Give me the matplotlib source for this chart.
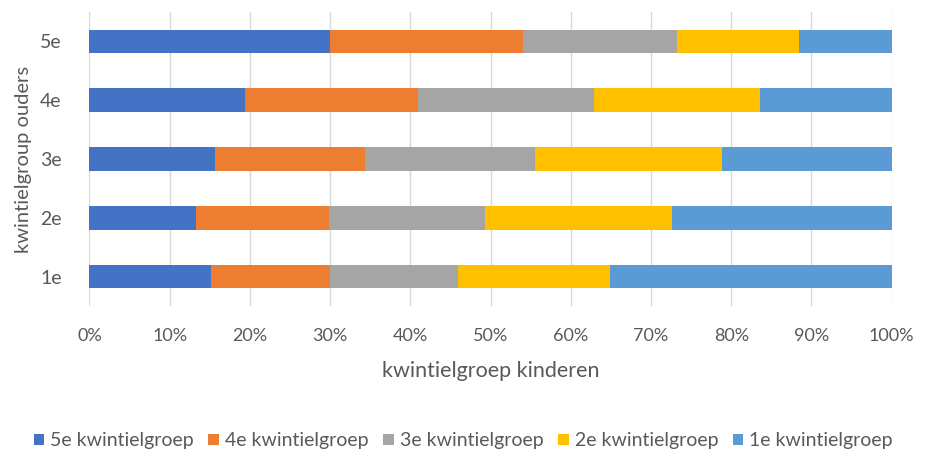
import matplotlib
matplotlib.use("Agg")
import matplotlib.pyplot as plt
from matplotlib.ticker import PercentFormatter
import numpy as np

plt.rcParams["font.family"] = ["Lato", "DejaVu Sans"]

# parent quintile groups (bottom to top)
ouders = ["1e", "2e", "3e", "4e", "5e"]

# share of children in each quintile group (%), per parent group
kind_5e = [15.1, 13.3, 15.6, 19.4, 30.0]
kind_4e = [14.9, 16.5, 18.8, 21.6, 24.0]
kind_3e = [15.9, 19.5, 21.1, 21.9, 19.3]
kind_2e = [19.0, 23.3, 23.4, 20.7, 15.1]
kind_1e = [35.1, 27.4, 21.1, 16.4, 11.6]

series = [
    ("5e kwintielgroep", kind_5e, "#4472C4"),
    ("4e kwintielgroep", kind_4e, "#ED7D31"),
    ("3e kwintielgroep", kind_3e, "#A5A5A5"),
    ("2e kwintielgroep", kind_2e, "#FFC000"),
    ("1e kwintielgroep", kind_1e, "#5B9BD5"),
]

fig = plt.figure(figsize=(9.32, 4.54), dpi=100)
ax = fig.add_axes([0.096, 0.326, 0.8607, 0.6476])

y = np.arange(len(ouders))
left = np.zeros(len(ouders))
for name, vals, col in series:
    vals = np.array(vals)
    ax.barh(y, vals, left=left, height=0.4, color=col, label=name, zorder=3)
    left += vals

ax.set_xlim(0, 100)
ax.set_ylim(-0.5, 4.5)
ax.set_xticks(np.arange(0, 101, 10))
ax.xaxis.set_major_formatter(PercentFormatter(decimals=0))
ax.set_yticks(y)
ax.set_yticklabels(ouders)
ax.grid(axis="x", color="#d9d9d9", lw=1, zorder=0)
for s in ax.spines.values():
    s.set_visible(False)
ax.tick_params(axis="x", length=0, labelsize=13, colors="#595959", pad=16)
ax.tick_params(axis="y", length=0, labelsize=14, colors="#595959", pad=20)

ax.set_xlabel("kwintielgroep kinderen", fontsize=15.5, color="#595959", labelpad=12)
ax.set_ylabel("kwintielgroup ouders", fontsize=14.5, color="#595959", labelpad=6)

ax.legend(loc="upper center", bbox_to_anchor=(0.466, -0.37), ncol=5, frameon=False,
          fontsize=14, labelcolor="#595959", handlelength=0.55, handleheight=0.55,
          handletextpad=0.3, columnspacing=0.75)

fig.savefig("out.png", dpi=100)
